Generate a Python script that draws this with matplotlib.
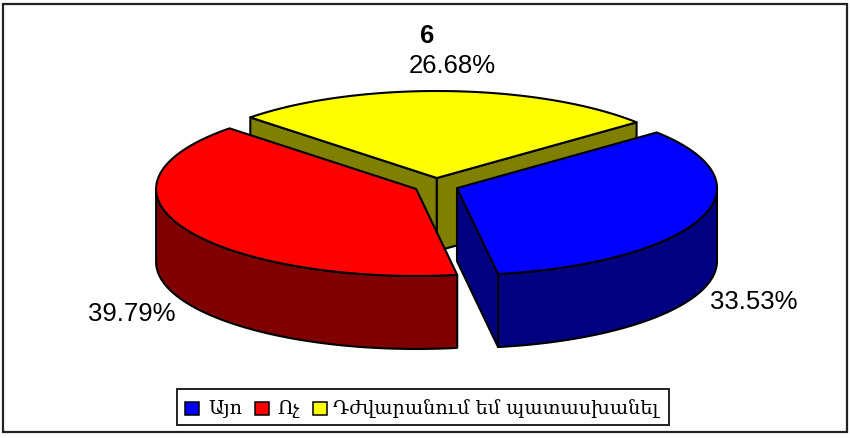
import numpy as np
import matplotlib.pyplot as plt
from matplotlib.patches import Rectangle

# values
labels = ['Այո', 'Ոչ', 'Դժվարանում եմ պատասխանել']
values = [33.53, 39.79, 26.68]
title = '6'
top_colors = ['#0000ff', '#ff0000', '#ffff00']
side_colors = ['#000080', '#800000', '#808000']

# pie geometry in pixels
cx, cy = 436, 186.5
rx, ry = 260, 87
depth = 73
explode = 0.0862
start = 39.8

plt.rcParams['font.family'] = ['Liberation Sans', 'DejaVu Sans']
fig = plt.figure(figsize=(8.5, 4.39), dpi=100)
ax = fig.add_axes([0, 0, 1, 1])
ax.set_xlim(0, 850)
ax.set_ylim(439, 0)
ax.axis('off')

# outer frame
ax.add_patch(Rectangle((3.5, 5), 844, 428, fc='white', ec='#222222', lw=1.6))


def pt(c, t):
    t = np.radians(t)
    return c[0] + rx * np.cos(t), c[1] - ry * np.sin(t)


def draw_slice(i, a0, a1):
    # a0 > a1, goes clockwise
    mid = np.radians((a0 + a1) / 2)
    c = (cx + explode * rx * np.cos(mid), cy - explode * ry * np.sin(mid))
    ec = dict(edgecolor='black', linewidth=1.5, joinstyle='round')

    # cut faces, only those turned to the viewer
    for a, sign in ((a0, 1), (a1, -1)):
        p = pt(c, a)
        # outward normal of the cut, in pixels (y down)
        dx, dy = p[0] - c[0], p[1] - c[1]
        ny = -sign * dx
        if ny > 0:
            ax.fill([c[0], p[0], p[0], c[0]],
                    [c[1], p[1], p[1] + depth, c[1] + depth],
                    facecolor=side_colors[i], **ec)

    # outer rim, front half only
    for k in (0, -1):
        lo = max(a1, -180 + 360 * k)
        hi = min(a0, 0 + 360 * k)
        if hi > lo:
            t = np.linspace(hi, lo, 80)
            x, y = pt(c, t)
            ax.fill(np.r_[x, x[::-1]], np.r_[y, y[::-1] + depth],
                    facecolor=side_colors[i], **ec)

    # top
    t = np.linspace(a0, a1, 160)
    x, y = pt(c, t)
    ax.fill(np.r_[c[0], x], np.r_[c[1], y], facecolor=top_colors[i], **ec)


# sweep angles from the values
angles = [start]
for v in values:
    angles.append(angles[-1] - v / sum(values) * 360)

# back to front
for i in (2, 1, 0):
    draw_slice(i, angles[i], angles[i + 1])

ax.text(427, 36, title, fontsize=18.5, fontweight='bold', ha='center', va='center')
ax.text(754, 302, f'{values[0]:.2f}%', fontsize=18.5, ha='center', va='center')
ax.text(132, 314, f'{values[1]:.2f}%', fontsize=18.5, ha='center', va='center')
ax.text(452, 66, f'{values[2]:.2f}%', fontsize=18.5, ha='center', va='center')

# legend
ax.add_patch(Rectangle((177, 390), 492, 36.5, fc='white', ec='#222222', lw=1.4))
serif = ['DejaVu Serif', 'DejaVu Sans']
xs = [185, 255, 313]
tx = [208, 277, 333]
for i in range(3):
    ax.add_patch(Rectangle((xs[i], 403), 14, 13.5, fc=top_colors[i], ec='black', lw=1.1))
    ax.text(tx[i], 409, labels[i], fontsize=13.9, family=serif, ha='left', va='center')

fig.savefig('out.png', dpi=100)
